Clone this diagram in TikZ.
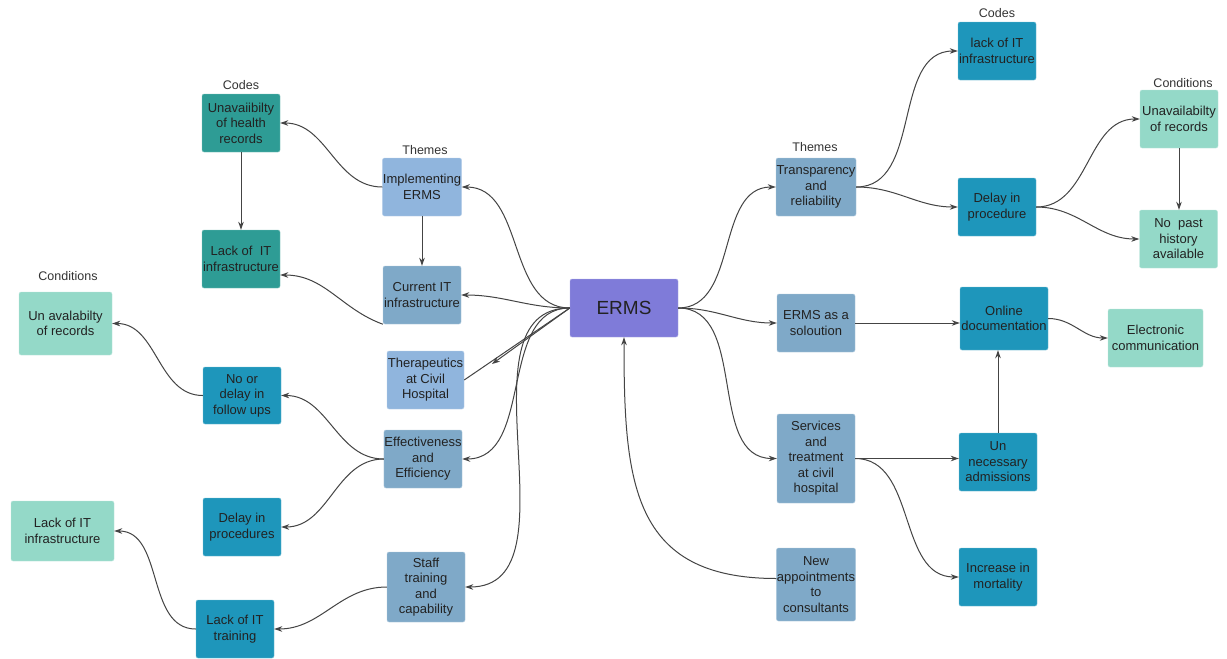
\documentclass[tikz,border=0pt]{standalone}
\usepackage{fontspec}
\setmainfont{Liberation Sans}
\usetikzlibrary{arrows.meta}
\definecolor{ermscol}{HTML}{7F7BD9}
\definecolor{thmA}{HTML}{90B5DD}
\definecolor{thmB}{HTML}{7FA9C8}
\definecolor{tealcol}{HTML}{2E9C95}
\definecolor{bluecol}{HTML}{1E96BB}
\definecolor{mintcol}{HTML}{94D9C8}
\definecolor{linecol}{HTML}{444444}
\definecolor{txtcol}{HTML}{222222}
\definecolor{hdrcol}{HTML}{333333}
\begin{document}
\begin{tikzpicture}[x=1pt,y=1pt,
  box/.style={rectangle, rounded corners=2pt, align=center, inner sep=0.5pt,
    minimum width=78pt, minimum height=58pt, text=txtcol,
    font=\fontsize{13}{15.5}\selectfont},
  themeA/.style={box, fill=thmA, draw=thmA!60!white},
  themeB/.style={box, fill=thmB, draw=thmB!60!white},
  tealbox/.style={box, fill=tealcol, draw=tealcol!60!white},
  bluebox/.style={box, fill=bluecol, draw=bluecol!60!white},
  mintbox/.style={box, fill=mintcol, draw=mintcol!60!white},
  hdr/.style={font=\fontsize{12.5}{14}\selectfont, text=hdrcol},
  line/.style={draw=linecol, line width=1pt},
  arr/.style={line, -{Stealth[length=8pt,width=5.5pt]}}]
\useasboundingbox (0,0) rectangle (1227,-659);
\fill[white] (0,0) rectangle (1227,-659);
% centre
\node[box, fill=ermscol, draw=ermscol!60!white, minimum width=108pt, font=\fontsize{19}{21}\selectfont] (erms) at (624,-308) {ERMS};
% left themes
\node[hdr] (lthemes) at (425,-150) {Themes};
\node[themeA] (ime) at (422,-187) {Implementing\\ERMS};
\node[themeB] (cit) at (422,-295) {Current IT\\infrastructure};
\node[themeA, minimum width=77pt] (the) at (425.5,-380) {Therapeutics\\at Civil\\Hospital};
\node[themeB] (eff) at (423,-459) {Effectiveness\\and\\Efficiency};
\node[themeB, minimum height=70pt] (stf) at (426,-587) {Staff\\training\\and\\capability};
% left codes
\node[hdr] (lcodes) at (241,-85) {Codes};
\node[tealbox] (uhr) at (241,-123) {Unavaiibilty\\of health\\records};
\node[tealbox] (lit1) at (241,-259) {Lack of~~IT\\infrastructure};
\node[bluebox, minimum height=57pt] (ndf) at (242,-395.5) {No or\\delay in\\follow ups};
\node[bluebox] (dps) at (242,-527) {Delay in\\procedures};
\node[bluebox] (ltr) at (235,-629) {Lack of IT\\training};
% left conditions
\node[hdr] (lcond) at (68,-276) {Conditions};
\node[mintbox, minimum width=93pt, minimum height=63pt] (uar) at (65.5,-323.5) {Un avalabilty\\of records};
\node[mintbox, minimum width=103pt, minimum height=60pt] (lit2) at (62.5,-531) {Lack of IT\\infrastructure};
% right themes
\node[hdr] (rthemes) at (815,-147) {Themes};
\node[themeB] (tra) at (816,-187) {Transparency\\and\\reliability};
\node[themeB] (sol) at (816,-323) {ERMS as a\\soloution};
\node[themeB, minimum height=89pt] (svc) at (816,-458.5) {Services\\and\\treatment\\at civil\\hospital};
\node[themeB, minimum height=73pt] (nap) at (816,-584.5) {New\\appointments\\to\\consultants};
% right codes
\node[hdr] (rcodes) at (997,-13) {Codes};
\node[bluebox] (lit3) at (997,-51) {lack of IT\\infrastructure};
\node[bluebox] (dpr) at (997,-207) {Delay in\\procedure};
\node[bluebox, minimum width=88pt, minimum height=63pt] (onl) at (1004,-318.5) {Online\\documentation};
\node[bluebox] (unn) at (998,-462) {Un\\necessary\\admissions};
\node[bluebox] (inc) at (998,-577) {Increase in\\mortality};
% right conditions
\node[hdr] (rcond) at (1183,-83) {Conditions};
\node[mintbox] (uar2) at (1179,-119) {Unavailabilty\\of records};
\node[mintbox] (nph) at (1178.5,-239) {No~~past\\history\\available};
\node[mintbox, minimum width=95pt] (elc) at (1155.5,-338) {Electronic\\communication};
\coordinate (thtip) at (492,-364);
% ERMS to left themes
\draw[arr] (erms.west) to[out=180,in=0] (ime.east);
\draw[arr] (erms.west) to[out=180,in=0] (cit.east);
\draw[line] (the.east) -- (erms.west);
\draw[arr] (erms.west) -- (thtip);
\draw[arr] (erms.west) to[out=180,in=0] (eff.east);
\draw[arr] (erms.west) to[out=180,in=0] (stf.east);
\draw[arr] ([yshift=6pt]nap.west) to[out=180,in=-90,looseness=1.3] (erms.south);
% ERMS to right themes
\draw[arr] (erms.east) to[out=0,in=180] (tra.west);
\draw[arr] (erms.east) to[out=0,in=180] (sol.west);
\draw[arr] (erms.east) to[out=0,in=180] (svc.west);
% left branches
\draw[arr] (ime.west) to[out=180,in=0] (uhr.east);
\draw[arr] (ime.south) -- (cit.north);
\draw[arr] (cit.south west) to[out=160,in=0] ([yshift=-16pt]lit1.east);
\draw[arr] (uhr.south) -- (lit1.north);
\draw[arr] (eff.west) to[out=180,in=0] (ndf.east);
\draw[arr] (eff.west) to[out=180,in=0] (dps.east);
\draw[arr] (ndf.west) to[out=180,in=0] (uar.east);
\draw[arr] (stf.west) to[out=180,in=0] (ltr.east);
\draw[arr] (ltr.west) to[out=180,in=0] (lit2.east);
% right branches
\draw[arr] (tra.east) to[out=0,in=180] (lit3.west);
\draw[arr] (tra.east) to[out=0,in=180] (dpr.west);
\draw[arr] (dpr.east) to[out=0,in=180] (uar2.west);
\draw[arr] (dpr.east) to[out=0,in=180] (nph.west);
\draw[arr] (uar2.south) -- (uar2.south |- nph.north);
\draw[arr] (sol.east) -- (sol.east -| onl.west);
\draw[arr] (onl.east) to[out=0,in=180] (elc.west);
\draw[arr] (svc.east) -- (svc.east -| unn.west);
\draw[arr] (svc.east) to[out=0,in=180] (inc.west);
\draw[arr] (unn.north) -- (unn.north |- onl.south);
\end{tikzpicture}
\end{document}
